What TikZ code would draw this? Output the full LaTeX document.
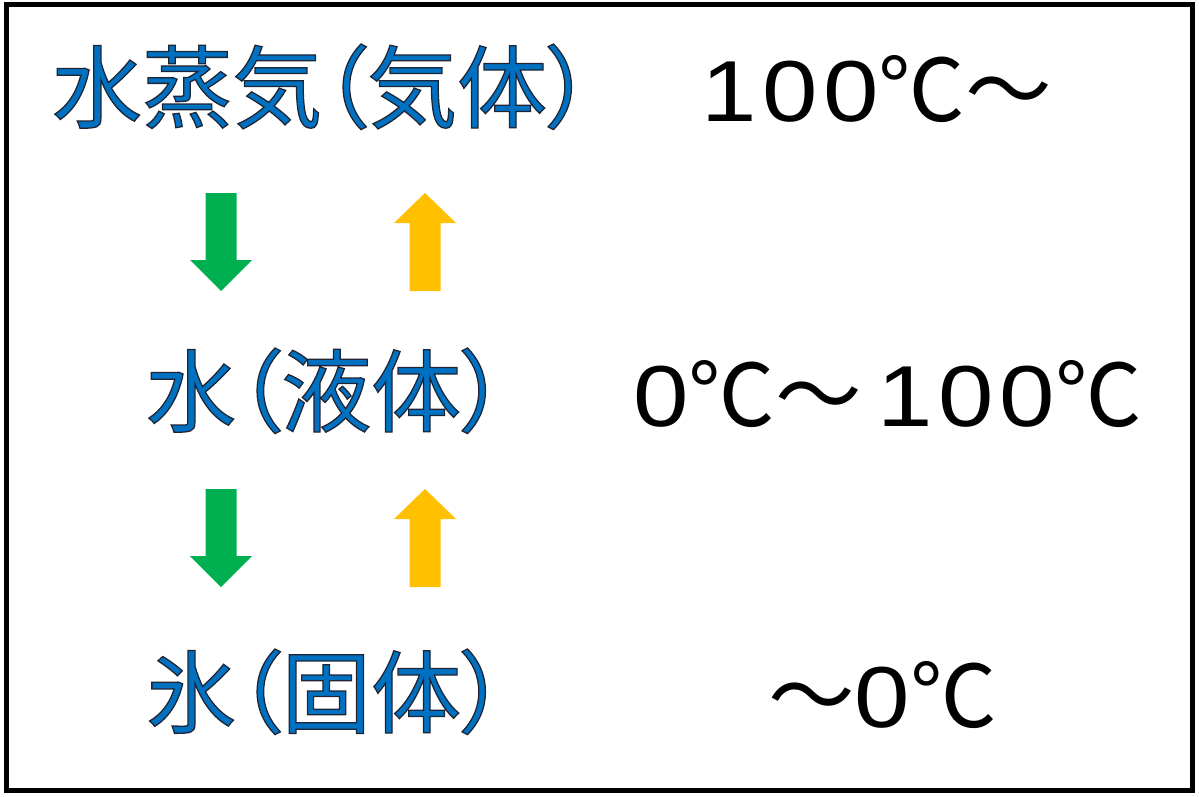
\documentclass[tikz,border=0pt]{standalone}
\usepackage{fontspec}
\usepackage{tikz}

\newfontfamily\jpfont{Noto Sans CJK JP}
\newfontfamily\statefont[FakeBold=1.4,RawFeature=+palt]{Noto Sans CJK JP}
\newfontfamily\numfont[FakeStretch=1.15,LetterSpace=6.5]{Liberation Sans}
\definecolor{stateblue}{HTML}{0070C0}
\definecolor{downgreen}{HTML}{00B050}
\definecolor{upyellow}{HTML}{FFC000}
\newcommand{\degc}{{\jpfont ℃}}
\newcommand{\wave}{{\jpfont 〜}}
% blue fill with a dark outline
\newcommand{\outlined}[1]{\special{pdf:bcolor [0 0.439 0.753] [0.12 0.14 0.2]}#1\special{pdf:ecolor}}

\tikzset{
  state/.style={anchor=base west, inner sep=0pt, text=stateblue, font=\statefont\fontsize{90}{96}\selectfont},
  temprange/.style={anchor=base west, inner sep=0pt, font=\numfont\fontsize{86.6}{96}\selectfont},
}

\begin{document}
\begin{tikzpicture}[x=1pt,y=-1pt]
    \useasboundingbox (0,0) rectangle (1199,797);

    % Frame
    \draw[line width=5pt] (6.5,4.5) rectangle (1192.5,790.5);

    % States of water
    \node[state] (gas)    at (52,121)  {\outlined{水蒸気（気体）}};
    \node[state] (liquid) at (146,425) {\outlined{水（液体）}};
    \node[state] (solid)  at (146,726) {\outlined{氷（固体）}};

    % Temperature ranges
    \node[temprange] (gasT)    at (701,122) {100\degc\wave};
    \node[temprange] (liquidT) at (633,426) {0\degc\wave\hspace{16pt}100\degc};
    \node[temprange] (solidT)  at (768,727) {\wave 0\degc};

    % Down arrows (cooling)
    \foreach \y in {193, 489} {
      \fill[downgreen] (205.5,\y) -- (236.5,\y) -- (236.5,\y+67) -- (252,\y+67) -- (221,\y+98) -- (190,\y+67) -- (205.5,\y+67) -- cycle;
    }

    % Up arrows (heating)
    \foreach \y in {193, 489} {
      \fill[upyellow] (425,\y) -- (456,\y+30) -- (440.5,\y+30) -- (440.5,\y+98) -- (409.5,\y+98) -- (409.5,\y+30) -- (394,\y+30) -- cycle;
    }
\end{tikzpicture}
\end{document}
